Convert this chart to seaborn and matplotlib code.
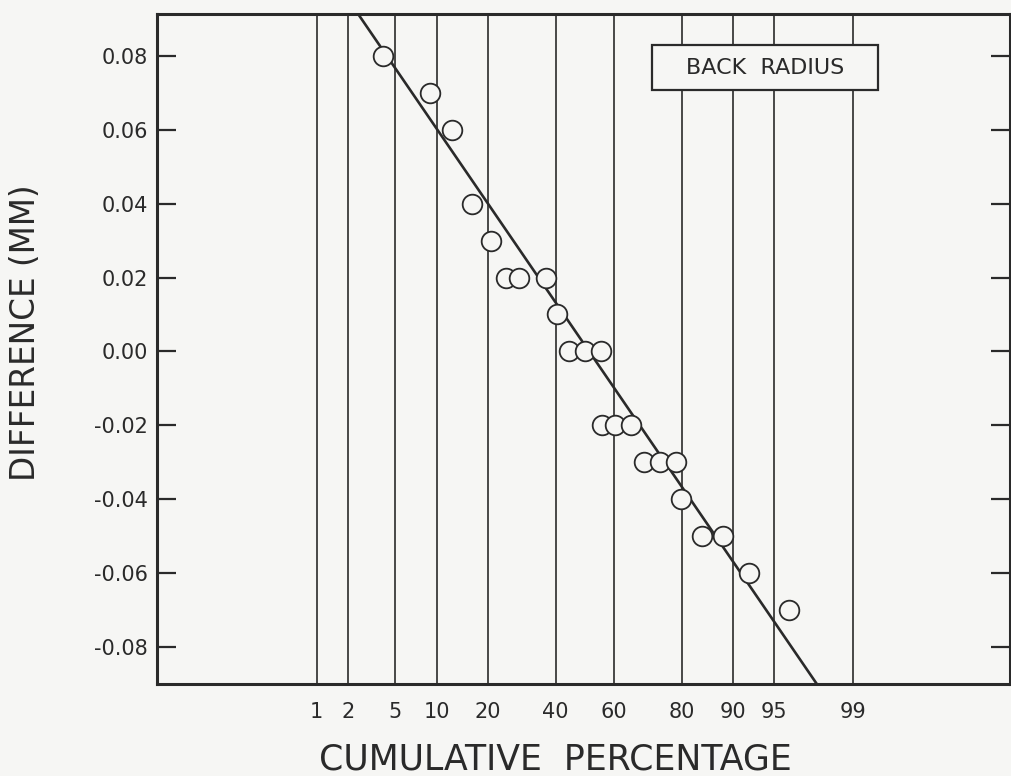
import numpy as np
import matplotlib
matplotlib.use("Agg")
import matplotlib.pyplot as plt
from matplotlib.patches import Rectangle
import seaborn as sns
from statistics import NormalDist

# ---- data ----
cum_pct = [4.0, 8.9, 12.4, 16.3, 20.7, 24.6, 28.3, 36.7, 40.4, 44.5, 50.0, 55.5,
           55.9, 60.4, 65.5, 69.6, 74.4, 78.6, 79.8, 84.5, 88.5, 92.3, 96.2]
difference = [0.08, 0.07, 0.06, 0.04, 0.03, 0.02, 0.02, 0.02, 0.01, 0.00, 0.00, 0.00,
              -0.02, -0.02, -0.02, -0.03, -0.03, -0.03, -0.04, -0.05, -0.05, -0.06, -0.07]
fit_intercept = 0.0017   # value of the fitted line at 50 %
fit_slope = -0.0456      # change per standard normal unit
x_ticks = [1, 2, 5, 10, 20, 40, 60, 80, 90, 95, 99]
x_tick_labels = ["1", "2", "5", "10", "20", "40", "60", "80", "90", "95", "99"]
y_ticks = [-0.08, -0.06, -0.04, -0.02, 0.00, 0.02, 0.04, 0.06, 0.08]
y_tick_labels = ["-0.08", "-0.06", "-0.04", "-0.02", "0.00", "0.02", "0.04", "0.06", "0.08"]
legend_text = "BACK  RADIUS"
x_label = "CUMULATIVE  PERCENTAGE"
y_label = "DIFFERENCE (MM)"

# ---- normal probability scale ----
_nd = NormalDist()
_ppf = np.vectorize(lambda q: _nd.inv_cdf(q) if np.isfinite(q) else np.nan, otypes=[float])
_cdf = np.vectorize(lambda z: _nd.cdf(z) if np.isfinite(z) else np.nan, otypes=[float])


def prob_fwd(p):
    p = np.asarray(p, dtype=float)
    q = np.clip(p / 100.0, 1e-12, 1 - 1e-12)
    return _ppf(q)


def prob_inv(z):
    z = np.asarray(z, dtype=float)
    return _cdf(z) * 100.0


INK = "#2a2a2a"
PAPER = "#f6f6f4"

sns.set_theme(style="white")
plt.rcParams["font.family"] = ["DejaVu Sans"]

W, H = 1011, 776
fig = plt.figure(figsize=(W / 100, H / 100), dpi=100, facecolor=PAPER)
left_px, right_px, top_px, bot_px = 156.7, 1009.5, 14.0, 684.0
ax = fig.add_axes([left_px / W, 1 - bot_px / H, (right_px - left_px) / W, (bot_px - top_px) / H])
ax.set_facecolor(PAPER)
ax.set_xscale("function", functions=(prob_fwd, prob_inv))

# fitted normal line
z_line = np.linspace(-2.6, 2.6, 60)
line_pct = prob_inv(z_line)
line_y = fit_intercept + fit_slope * z_line
sns.lineplot(x=line_pct, y=line_y, ax=ax, color=INK, linewidth=1.9,
             estimator=None, sort=False, zorder=2)

# data points
sns.scatterplot(x=cum_pct, y=difference, ax=ax, marker="o", s=200,
                facecolor=PAPER, edgecolor=INK, linewidth=1.3, zorder=3)

ax.set_xlim(prob_inv(-3.715), prob_inv(3.685))
ax.set_ylim(-0.0901, 0.0914)

ax.set_xticks(x_ticks)
ax.set_xticklabels(x_tick_labels)
ax.set_yticks(y_ticks)
ax.set_yticklabels(y_tick_labels)
ax.xaxis.set_minor_locator(matplotlib.ticker.NullLocator())

ax.grid(axis="x", color=INK, linewidth=1.2)
ax.grid(axis="y", visible=False)
ax.set_axisbelow(True)

ax.tick_params(axis="x", length=0, pad=13, labelsize=15, labelcolor=INK)
ax.tick_params(axis="y", direction="in", length=13.5, width=1.6, color=INK,
               left=True, right=True, labelleft=True, labelright=False,
               pad=6.5, labelsize=15, labelcolor=INK)

for sp in ax.spines.values():
    sp.set_visible(True)
    sp.set_color(INK)
    sp.set_linewidth(2.2)

# legend box
ax.add_patch(Rectangle((0.5808, 0.8866), 0.2650, 0.0671, transform=ax.transAxes,
                       facecolor=PAPER, edgecolor=INK, linewidth=1.6, zorder=4))
ax.text(0.7133, 0.9200, legend_text, transform=ax.transAxes, ha="center", va="center",
        fontsize=16, color=INK, zorder=5)

ax.set_xlabel(x_label, fontsize=25, color=INK)
ax.set_ylabel(y_label, fontsize=23.5, color=INK)
ax.xaxis.set_label_coords(0.467, -0.1134)
ax.xaxis.label.set_va("center")
ax.yaxis.set_label_coords(-0.1533, 0.524)
ax.yaxis.label.set_va("center")

fig.savefig("out.png", dpi=100, facecolor=PAPER)
